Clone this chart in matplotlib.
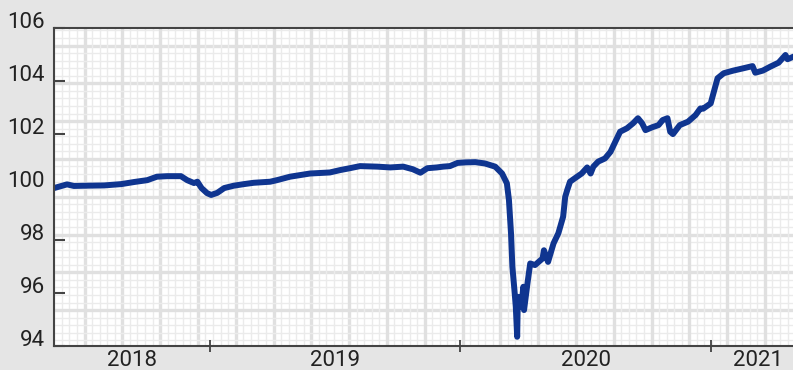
import numpy as np
import pandas as pd
import matplotlib
matplotlib.use("Agg")
import matplotlib.pyplot as plt
import matplotlib.dates as mdates

plt.rcParams['font.family'] = ['Roboto', 'DejaVu Sans']

dates = [
    "2018-05-19", "2018-06-07", "2018-06-17", "2018-07-06", "2018-07-31",
    "2018-08-25", "2018-09-13", "2018-10-02", "2018-10-16", "2018-10-31",
    "2018-11-20", "2018-11-29", "2018-12-09", "2018-12-14", "2018-12-20",
    "2018-12-28", "2019-01-03", "2019-01-12", "2019-01-22", "2019-02-05",
    "2019-02-20", "2019-03-06", "2019-03-30", "2019-04-09", "2019-04-28",
    "2019-05-27", "2019-06-25", "2019-07-10", "2019-07-24", "2019-08-08",
    "2019-09-02", "2019-09-21", "2019-10-10", "2019-10-24", "2019-11-04",
    "2019-11-14", "2019-11-28", "2019-12-07", "2019-12-17", "2019-12-28",
    "2020-01-08", "2020-01-23", "2020-02-06", "2020-02-21", "2020-03-02",
    "2020-03-09", "2020-03-12", "2020-03-15", "2020-03-17", "2020-03-20",
    "2020-03-22", "2020-03-24", "2020-03-25", "2020-03-30", "2020-04-02",
    "2020-04-03", "2020-04-08", "2020-04-12", "2020-04-19", "2020-04-30",
    "2020-05-02", "2020-05-08", "2020-05-16", "2020-05-23", "2020-05-30",
    "2020-06-02", "2020-06-05", "2020-06-09", "2020-06-16", "2020-06-26",
    "2020-07-04", "2020-07-09", "2020-07-13", "2020-07-20", "2020-07-30",
    "2020-08-07", "2020-08-14", "2020-08-21", "2020-08-31", "2020-09-09",
    "2020-09-16", "2020-09-22", "2020-09-27", "2020-10-07", "2020-10-16",
    "2020-10-22", "2020-10-29", "2020-11-02", "2020-11-06", "2020-11-16",
    "2020-11-28", "2020-12-09", "2020-12-16", "2020-12-20", "2020-12-31",
    "2021-01-04", "2021-01-10", "2021-01-19", "2021-02-02", "2021-02-17",
    "2021-03-02", "2021-03-06", "2021-03-17", "2021-03-28", "2021-04-09",
    "2021-04-19", "2021-04-22", "2021-05-01",
]
values = [
    99.95, 100.09, 100.03, 100.04, 100.05,
    100.10, 100.18, 100.25, 100.38, 100.40,
    100.40, 100.25, 100.14, 100.19, 99.95,
    99.76, 99.69, 99.77, 99.95, 100.04,
    100.10, 100.15, 100.19, 100.25, 100.38,
    100.50, 100.54, 100.63, 100.70, 100.78,
    100.76, 100.73, 100.76, 100.66, 100.53,
    100.70, 100.73, 100.76, 100.78, 100.90,
    100.92, 100.93, 100.88, 100.76, 100.50,
    100.13, 99.50, 98.25, 96.98, 96.10,
    95.46, 94.33, 95.84, 95.46, 96.22,
    95.34, 96.35, 97.10, 97.04, 97.29,
    97.60, 97.16, 97.86, 98.24, 98.87,
    99.62, 99.88, 100.19, 100.32, 100.50,
    100.73, 100.50, 100.76, 100.95, 101.07,
    101.32, 101.70, 102.08, 102.21, 102.40,
    102.59, 102.40, 102.14, 102.25, 102.33,
    102.52, 102.59, 102.08, 101.99, 102.33,
    102.46, 102.71, 102.96, 102.95, 103.15,
    103.53, 104.10, 104.29, 104.39, 104.48,
    104.56, 104.31, 104.39, 104.54, 104.69,
    104.98, 104.82, 104.92,
]

y_ticks = [94, 96, 98, 100, 102, 104, 106]
years = [2018, 2019, 2020, 2021]
x_start, x_end = "2018-05-19", "2021-05-16"

W, H = 793, 370
fig = plt.figure(figsize=(W / 100, H / 100), dpi=100)
fig.patch.set_facecolor('#e5e5e5')

left, right, top, bottom = 54, 804, 28, 345.5
rect = [left / W, 1 - bottom / H, (right - left) / W, (bottom - top) / H]

# graph-paper background, laid out in pixels
bg = fig.add_axes(rect, zorder=0)
bg.set_facecolor('white')
bg.set_xticks([])
bg.set_yticks([])
for s in bg.spines.values():
    s.set_visible(False)
pw, ph = right - left, bottom - top
bg.set_xlim(0, pw)
bg.set_ylim(ph, 0)
step = 37.8
minor = step / 5
for k in range(-10, 120):
    xv = 30.5 + k * minor
    if 0 < xv < pw:
        major = k % 5 == 0
        bg.axvline(xv, color='#e0e0e0' if major else '#ebebeb',
                   lw=2.4 if major else 1.0)
    yv = 17.5 + k * minor
    if 0 < yv < ph:
        major = k % 5 == 0
        bg.axhline(yv, color='#e0e0e0' if major else '#ebebeb',
                   lw=2.4 if major else 1.0)

ax = fig.add_axes(rect, zorder=1)
ax.set_facecolor('none')

x = pd.to_datetime(dates)
ax.plot(x, values, color='#0f3590', lw=4.3, solid_joinstyle='round',
        solid_capstyle='round')

ax.set_ylim(94, 106)
ax.set_xlim(pd.Timestamp(x_start), pd.Timestamp(x_end))

ax.set_yticks(y_ticks)
ax.set_yticklabels([str(v) for v in y_ticks])
ax.tick_params(axis='y', direction='in', length=8, width=1.5, color='#444',
               pad=6.5, labelsize=16, labelcolor='#222')
for lab in ax.get_yticklabels():
    lab.set_va('baseline')

# year boundaries as ticks, year names centred in each span
lo, hi = mdates.date2num(pd.Timestamp(x_start)), mdates.date2num(pd.Timestamp(x_end))
bounds = [mdates.date2num(pd.Timestamp(f"{y}-01-01")) for y in years[1:]]
edges = [lo] + bounds + [hi]
mids = [(a + b) / 2 for a, b in zip(edges[:-1], edges[1:])]
ax.set_xticks(bounds)
ax.set_xticklabels([])
ax.set_xticks(mids, minor=True)
ax.set_xticklabels([str(y) for y in years], minor=True)
ax.tick_params(axis='x', which='major', direction='inout', length=8,
               width=1.2, color='#333')
ax.tick_params(axis='x', which='minor', length=0, pad=3, labelsize=16,
               labelcolor='#222')

for side in ['left', 'bottom', 'top']:
    ax.spines[side].set_color('#444')
    ax.spines[side].set_linewidth(1.5)
ax.spines['right'].set_visible(False)

fig.savefig('out.png', dpi=100, facecolor=fig.get_facecolor())
